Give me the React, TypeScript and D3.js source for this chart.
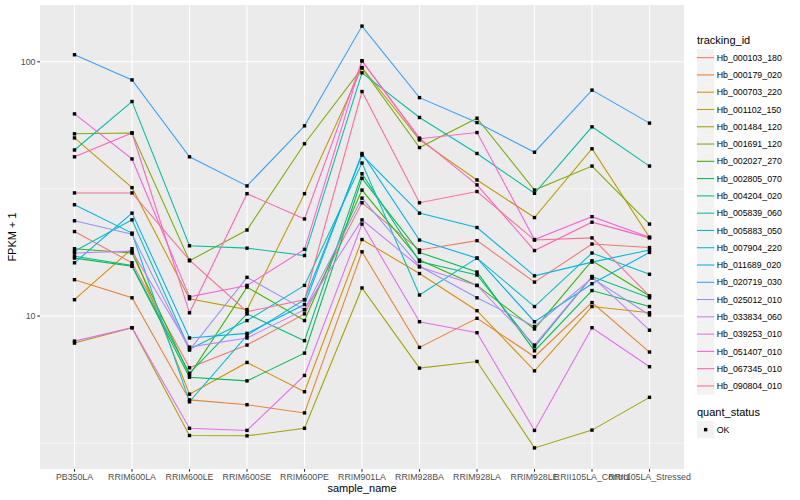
import React from "react";
import * as d3 from "d3";

const categories = [
  "PB350LA", "RRIM600LA", "RRIM600LE", "RRIM600SE", "RRIM600PE", "RRIM901LA",
  "RRIM928BA", "RRIM928LA", "RRIM928LE", "RRII105LA_Control", "RRII105LA_Stressed",
];

const trackingIds = [
  "Hb_000103_180", "Hb_000179_020", "Hb_000703_220", "Hb_001102_150", "Hb_001484_120",
  "Hb_001691_120", "Hb_002027_270", "Hb_002805_070", "Hb_004204_020", "Hb_005839_060",
  "Hb_005883_050", "Hb_007904_220", "Hb_011689_020", "Hb_020719_030", "Hb_025012_010",
  "Hb_033834_060", "Hb_039253_010", "Hb_051407_010", "Hb_067345_010", "Hb_090804_010",
];

// FPKM + 1 per sample, in category order
const hb_000103_180 = [21.5, 16.2, 6.26, 7.69, 10.2, 27.9, 18.2, 19.8, 13.6, 19.2, 18.6];
const hb_000179_020 = [13.9, 11.8, 4.68, 4.48, 4.16, 17.9, 7.53, 9.8, 6.92, 11.3, 7.22];
const hb_000703_220 = [11.6, 18.4, 4.93, 6.57, 5.04, 20.0, 14.7, 10.5, 6.09, 10.9, 10.3];
const hb_001102_150 = [50.2, 32.0, 11.7, 10.6, 30.3, 95.0, 49.3, 34.3, 24.4, 45.5, 20.4];
const hb_001484_120 = [7.83, 9.0, 3.39, 3.38, 3.62, 12.9, 6.24, 6.63, 3.03, 3.56, 4.79];
const hb_001691_120 = [52.1, 52.5, 16.5, 21.8, 47.6, 94.5, 46.0, 60.0, 31.3, 38.9, 23.0];
const hb_002027_270 = [18.4, 17.7, 5.86, 13.0, 9.6, 31.3, 16.6, 13.2, 8.9, 16.5, 12.0];
const hb_002805_070 = [16.9, 15.7, 5.75, 5.56, 7.15, 34.8, 17.8, 14.9, 7.3, 12.6, 10.9];
const hb_004204_020 = [17.2, 15.8, 5.96, 10.2, 8.0, 36.3, 16.4, 14.5, 7.57, 14.3, 11.8];
const hb_005839_060 = [45.0, 69.8, 18.9, 18.5, 17.3, 90.5, 60.4, 43.6, 30.4, 55.5, 38.9];
const hb_005883_050 = [18.0, 23.9, 7.41, 9.6, 13.2, 40.0, 12.1, 16.9, 10.9, 17.7, 14.6];
const hb_007904_220 = [27.4, 21.2, 4.6, 8.4, 11.6, 43.0, 25.4, 22.3, 14.4, 16.3, 18.2];
const hb_011689_020 = [16.2, 25.4, 8.2, 8.55, 11.1, 43.6, 19.9, 16.9, 9.5, 13.4, 17.8];
const hb_020719_030 = [106.6, 84.9, 42.3, 32.5, 56.0, 138.2, 72.3, 57.7, 44.1, 77.4, 57.4];
const hb_025012_010 = [23.7, 21.0, 7.35, 14.2, 10.6, 29.1, 15.7, 11.8, 9.1, 14.1, 10.1];
const hb_033834_060 = [17.7, 18.0, 7.55, 8.2, 10.6, 23.9, 15.6, 13.2, 7.69, 14.3, 8.8];
const hb_039253_010 = [7.97, 9.0, 3.62, 3.55, 5.84, 23.0, 9.5, 8.6, 3.55, 9.0, 6.32];
const hb_051407_010 = [62.4, 41.5, 11.9, 13.2, 18.3, 100.9, 49.8, 52.7, 20.0, 24.6, 20.4];
const hb_067345_010 = [42.3, 52.5, 10.3, 30.3, 24.1, 100.9, 50.1, 32.8, 18.1, 23.4, 20.3];
const hb_090804_010 = [30.5, 30.5, 16.6, 10.4, 11.6, 76.4, 27.9, 30.9, 19.9, 20.3, 12.0];

const seriesValues = [
  hb_000103_180, hb_000179_020, hb_000703_220, hb_001102_150, hb_001484_120,
  hb_001691_120, hb_002027_270, hb_002805_070, hb_004204_020, hb_005839_060,
  hb_005883_050, hb_007904_220, hb_011689_020, hb_020719_030, hb_025012_010,
  hb_033834_060, hb_039253_010, hb_051407_010, hb_067345_010, hb_090804_010,
];

const palette = [
  "#F8766D", "#EA8331", "#D89000", "#C09B00", "#A3A500", "#7CAE00", "#39B600",
  "#00BB4E", "#00BF7D", "#00C1A3", "#00BFC4", "#00BAE0", "#00B0F6", "#35A2FF",
  "#9590FF", "#C77CFF", "#E76BF3", "#FA62DB", "#FF62BC", "#FF6C91",
];

const yMajorTicks = [10, 100];
const yMinorTicks = [3.1623, 31.623];
const quantStatus = ["OK"];

const W = 800;
const H = 500;
const PL = 40;
const PR = 684;
const PT = 5;
const PB = 469;

export default function App() {
  const all = seriesValues.flat();
  const lmin = Math.log10(d3.min(all) as number);
  const lmax = Math.log10(d3.max(all) as number);
  const pad = (lmax - lmin) * 0.05;
  const y = d3.scaleLog().domain([10 ** (lmin - pad), 10 ** (lmax + pad)]).range([PB, PT]);
  const x = d3.scalePoint<string>().domain(categories).range([PL, PR]).padding(0.6);

  const line = d3
    .line<number>()
    .x((_, i) => x(categories[i]) as number)
    .y((d) => y(d));

  const legendX = 697;
  const keySize = 17.28;
  const legendTop = 49;

  return (
    <svg
      width={W}
      height={H}
      style={{ position: "absolute", left: 0, top: 0, fontFamily: "'Liberation Sans', Arial, sans-serif" }}
    >
      <rect x={0} y={0} width={W} height={H} fill="#FFFFFF" />
      <rect x={PL} y={PT} width={PR - PL} height={PB - PT} fill="#EBEBEB" />
      {yMinorTicks.map((t) => (
        <line key={"mn" + t} x1={PL} x2={PR} y1={y(t)} y2={y(t)} stroke="#FFFFFF" strokeWidth={0.53} />
      ))}
      {yMajorTicks.map((t) => (
        <line key={"mj" + t} x1={PL} x2={PR} y1={y(t)} y2={y(t)} stroke="#FFFFFF" strokeWidth={1.07} />
      ))}
      {categories.map((c) => (
        <line key={"gx" + c} x1={x(c)} x2={x(c)} y1={PT} y2={PB} stroke="#FFFFFF" strokeWidth={1.07} />
      ))}

      {seriesValues.map((vals, si) => (
        <path key={"s" + si} d={line(vals) || ""} fill="none" stroke={palette[si]} strokeWidth={1.07} />
      ))}
      {seriesValues.map((vals, si) =>
        vals.map((v, i) => (
          <rect
            key={"p" + si + "_" + i}
            x={(x(categories[i]) as number) - 1.7}
            y={y(v) - 1.7}
            width={3.4}
            height={3.4}
            fill="#000000"
          />
        ))
      )}

      {/* y axis */}
      {yMajorTicks.map((t) => (
        <g key={"yt" + t}>
          <line x1={PL - 2.75} x2={PL} y1={y(t)} y2={y(t)} stroke="#333333" strokeWidth={1.07} />
          <text x={PL - 4.5} y={y(t) + 3} textAnchor="end" fontSize={8.8} fill="#4D4D4D">
            {t}
          </text>
        </g>
      ))}
      {/* x axis */}
      {categories.map((c) => (
        <g key={"xt" + c}>
          <line x1={x(c)} x2={x(c)} y1={PB} y2={PB + 2.75} stroke="#333333" strokeWidth={1.07} />
          <text x={x(c)} y={PB + 11} textAnchor="middle" fontSize={8.8} fill="#4D4D4D">
            {c}
          </text>
        </g>
      ))}
      <text x={(PL + PR) / 2} y={492} textAnchor="middle" fontSize={11} fill="#000000">
        sample_name
      </text>
      <text
        transform={`translate(16,${(PT + PB) / 2}) rotate(-90)`}
        textAnchor="middle"
        fontSize={11}
        fill="#000000"
      >
        FPKM + 1
      </text>

      {/* legend */}
      <text x={legendX} y={44} fontSize={11} fill="#000000">
        tracking_id
      </text>
      {trackingIds.map((id, i) => {
        const ky = legendTop + i * keySize;
        return (
          <g key={"lg" + id}>
            <rect x={legendX} y={ky} width={keySize} height={keySize} fill="#F2F2F2" />
            <line
              x1={legendX}
              x2={legendX + keySize}
              y1={ky + keySize / 2}
              y2={ky + keySize / 2}
              stroke={palette[i]}
              strokeWidth={1.07}
            />
            <text x={legendX + keySize + 2.5} y={ky + keySize / 2 + 3.1} fontSize={8.8} fill="#000000">
              {id}
            </text>
          </g>
        );
      })}
      <text x={legendX} y={416} fontSize={11} fill="#000000">
        quant_status
      </text>
      {quantStatus.map((q, i) => {
        const ky = 421 + i * keySize;
        return (
          <g key={"qs" + q}>
            <rect x={legendX} y={ky} width={keySize} height={keySize} fill="#F2F2F2" />
            <rect x={legendX + keySize / 2 - 1.7} y={ky + keySize / 2 - 1.7} width={3.4} height={3.4} fill="#000000" />
            <text x={legendX + keySize + 2.5} y={ky + keySize / 2 + 3.1} fontSize={8.8} fill="#000000">
              {q}
            </text>
          </g>
        );
      })}
    </svg>
  );
}
